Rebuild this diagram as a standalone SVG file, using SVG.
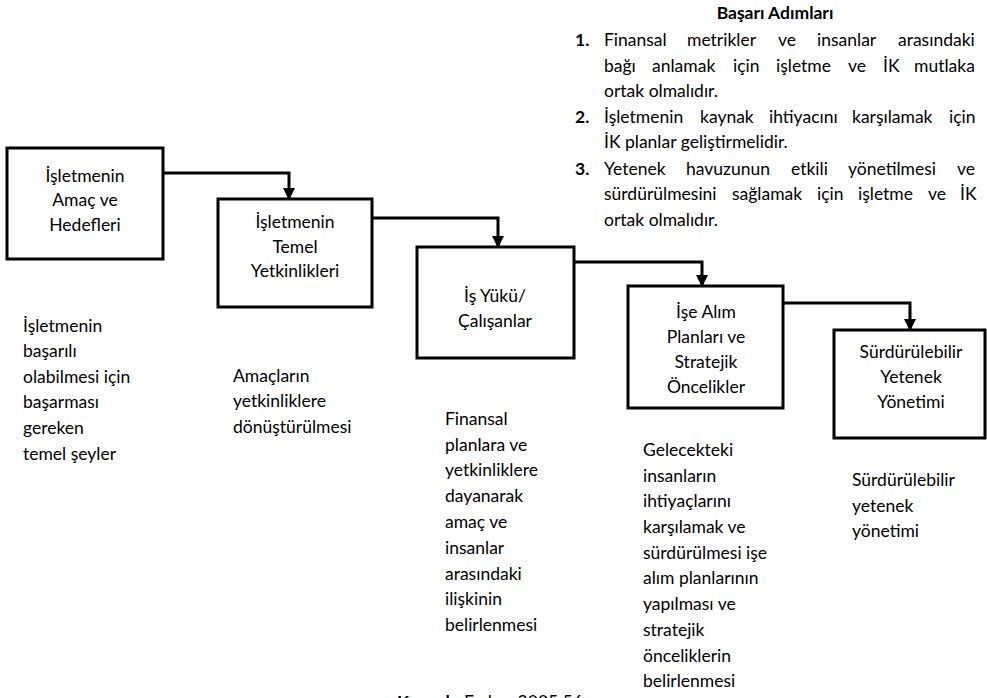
<svg xmlns="http://www.w3.org/2000/svg" width="987" height="698" viewBox="0 0 987 698">
<style>
text{font-family:Lato,"Liberation Sans","DejaVu Sans",sans-serif;font-size:17.5px;fill:#000}
.box{fill:#fff;stroke:#000;stroke-width:3}
.c{text-anchor:middle}
.b{font-weight:bold}
.conn{fill:none;stroke:#000;stroke-width:3}
</style>
<defs>
<marker id="arr" markerUnits="userSpaceOnUse" markerWidth="12" markerHeight="12" refX="11" refY="6" orient="auto" viewBox="0 0 12 12">
<path d="M0,0 L12,6 L0,12 Z" fill="#000"/>
</marker>
</defs>
<rect width="987" height="698" fill="#fff"/>

<g id="steps">
<text class="b c" x="775" y="19">Başarı Adımları</text>
<text class="b" x="575" y="46">1.</text>
<text y="46"><tspan x="604">Finansal</tspan><tspan x="687">metrikler</tspan><tspan x="778">ve</tspan><tspan x="817">insanlar</tspan><tspan x="898">arasındaki</tspan></text>
<text y="72"><tspan x="604">bağı</tspan><tspan x="652">anlamak</tspan><tspan x="733">için</tspan><tspan x="776">işletme</tspan><tspan x="848">ve</tspan><tspan x="883">İK</tspan><tspan x="914">mutlaka</tspan></text>
<text x="604" y="97">ortak olmalıdır.</text>
<text class="b" x="575" y="123">2.</text>
<text y="123"><tspan x="604">İşletmenin</tspan><tspan x="700">kaynak</tspan><tspan x="769">ihtiyacını</tspan><tspan x="852">karşılamak</tspan><tspan x="949">için</tspan></text>
<text x="604" y="148">İK planlar geliştirmelidir.</text>
<text class="b" x="575" y="175">3.</text>
<text y="175"><tspan x="604">Yetenek</tspan><tspan x="686">havuzunun</tspan><tspan x="791">etkili</tspan><tspan x="848">yönetilmesi</tspan><tspan x="957">ve</tspan></text>
<text y="200"><tspan x="604">sürdürülmesini</tspan><tspan x="732">sağlamak</tspan><tspan x="817">için</tspan><tspan x="858">işletme</tspan><tspan x="928">ve</tspan><tspan x="960">İK</tspan></text>
<text x="604" y="226">ortak olmalıdır.</text>
</g>

<g id="connectors">
<path class="conn" d="M163,173 H289 V199" marker-end="url(#arr)"/>
<path class="conn" d="M372,218 H498 V247" marker-end="url(#arr)"/>
<path class="conn" d="M574,262 H702 V286" marker-end="url(#arr)"/>
<path class="conn" d="M783,303 H910 V330" marker-end="url(#arr)"/>
</g>

<g id="node1">
<rect class="box" x="7" y="148" width="156" height="111"/>
<text class="c" x="85" y="182">İşletmenin</text>
<text class="c" x="85" y="206">Amaç ve</text>
<text class="c" x="85" y="231">Hedefleri</text>
</g>
<g id="node2">
<rect class="box" x="218" y="199" width="154" height="108"/>
<text class="c" x="295" y="228">İşletmenin</text>
<text class="c" x="295" y="253">Temel</text>
<text class="c" x="295" y="277">Yetkinlikleri</text>
</g>
<g id="node3">
<rect class="box" x="417" y="247" width="157" height="111"/>
<text class="c" x="495" y="302">İş Yükü/</text>
<text class="c" x="495" y="327">Çalışanlar</text>
</g>
<g id="node4">
<rect class="box" x="628" y="286" width="155" height="122"/>
<text class="c" x="706" y="318">İşe Alım</text>
<text class="c" x="706" y="343">Planları ve</text>
<text class="c" x="706" y="368">Stratejik</text>
<text class="c" x="706" y="393">Öncelikler</text>
</g>
<g id="node5">
<rect class="box" x="834" y="330" width="151" height="108"/>
<text class="c" x="911" y="358">Sürdürülebilir</text>
<text class="c" x="911" y="383">Yetenek</text>
<text class="c" x="911" y="408">Yönetimi</text>
</g>

<g id="desc1">
<text x="23" y="332">İşletmenin</text>
<text x="23" y="357">başarılı</text>
<text x="23" y="383">olabilmesi için</text>
<text x="23" y="408">başarması</text>
<text x="23" y="434">gereken</text>
<text x="23" y="460">temel şeyler</text>
</g>
<g id="desc2">
<text x="233" y="382">Amaçların</text>
<text x="233" y="407">yetkinliklere</text>
<text x="233" y="433">dönüştürülmesi</text>
</g>
<g id="desc3">
<text x="445" y="425">Finansal</text>
<text x="445" y="451">planlara ve</text>
<text x="445" y="476">yetkinliklere</text>
<text x="445" y="502">dayanarak</text>
<text x="445" y="528">amaç ve</text>
<text x="445" y="554">insanlar</text>
<text x="445" y="580">arasındaki</text>
<text x="445" y="605">ilişkinin</text>
<text x="445" y="631">belirlenmesi</text>
</g>
<g id="desc4">
<text x="643" y="456">Gelecekteki</text>
<text x="643" y="482">insanların</text>
<text x="643" y="507">ihtiyaçlarını</text>
<text x="643" y="533">karşılamak ve</text>
<text x="643" y="559">sürdürülmesi işe</text>
<text x="643" y="584">alım planlarının</text>
<text x="643" y="610">yapılması ve</text>
<text x="643" y="636">stratejik</text>
<text x="643" y="662">önceliklerin</text>
<text x="643" y="687">belirlenmesi</text>
</g>
<g id="desc5">
<text x="852" y="486">Sürdürülebilir</text>
<text x="852" y="512">yetenek</text>
<text x="852" y="537">yönetimi</text>
</g>
<text x="397" y="708"><tspan class="b">Kaynak:</tspan> Farley, 2005:56</text>
</svg>
